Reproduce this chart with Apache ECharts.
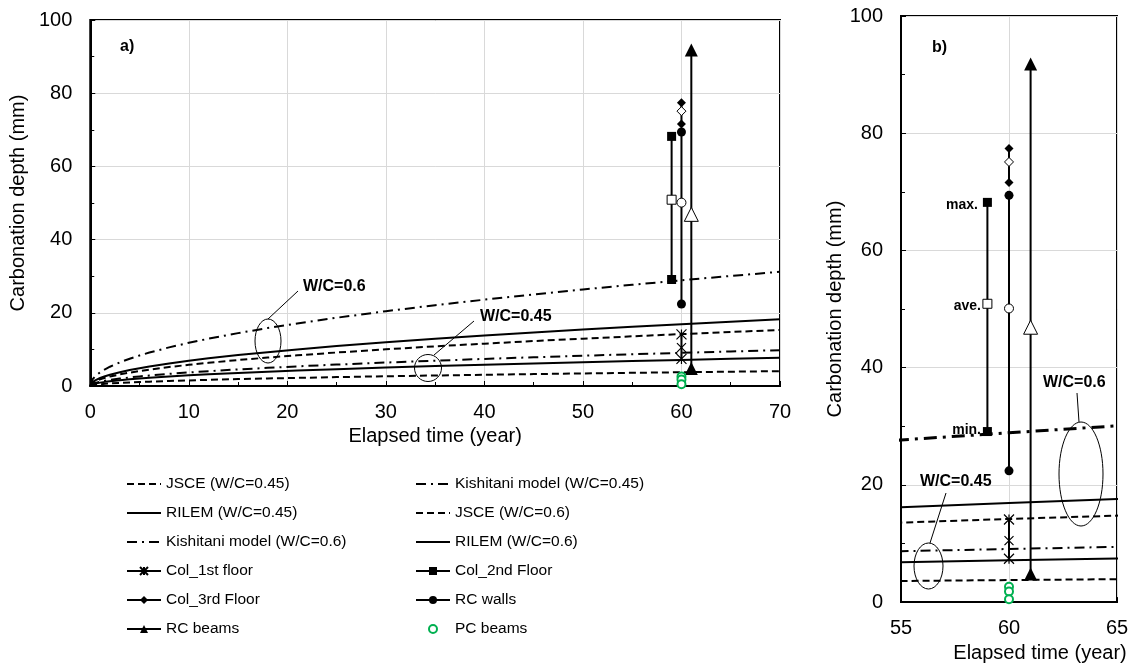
<!DOCTYPE html>
<html>
<head>
<meta charset="utf-8">
<script src="https://cdn.jsdelivr.net/npm/echarts@6/dist/echarts.min.js"></script>
<style>
html,body{margin:0;padding:0;background:#fff;}
#chart{width:1132px;height:668px;}
</style>
</head>
<body>
<div id="chart"></div>
<script>
// ---- data ----
const years    = [0, 0.25, 0.5, 1, 1.5, 2, 3, 4, 5, 6, 8, 10, 12, 15, 18, 21, 25, 30, 35, 40, 45, 50, 55, 60, 65, 70];
const jsce045  = [0, 0.24, 0.34, 0.49, 0.59, 0.69, 0.84, 0.97, 1.08, 1.19, 1.37, 1.53, 1.68, 1.88, 2.06, 2.22, 2.43, 2.66, 2.87, 3.07, 3.25, 3.43, 3.60, 3.76, 3.91, 4.06];
const rilem045 = [0, 0.46, 0.65, 0.92, 1.13, 1.30, 1.59, 1.84, 2.06, 2.25, 2.60, 2.91, 3.19, 3.56, 3.90, 4.22, 4.60, 5.04, 5.44, 5.82, 6.17, 6.51, 6.82, 7.13, 7.42, 7.70];
const kish045  = [0, 0.59, 0.83, 1.17, 1.43, 1.65, 2.03, 2.34, 2.62, 2.87, 3.31, 3.70, 4.05, 4.53, 4.96, 5.36, 5.85, 6.41, 6.92, 7.40, 7.85, 8.27, 8.68, 9.06, 9.43, 9.79];
const jsce06   = [0, 0.92, 1.29, 1.83, 2.24, 2.59, 3.17, 3.66, 4.09, 4.48, 5.18, 5.79, 6.34, 7.09, 7.76, 8.39, 9.15, 10.02, 10.83, 11.57, 12.28, 12.94, 13.57, 14.18, 14.75, 15.31];
const rilem06  = [0, 1.09, 1.54, 2.18, 2.67, 3.08, 3.78, 4.36, 4.87, 5.34, 6.17, 6.89, 7.55, 8.44, 9.25, 9.99, 10.90, 11.94, 12.90, 13.79, 14.62, 15.41, 16.17, 16.89, 17.58, 18.24];
const kish06   = [0, 1.87, 2.64, 3.73, 4.57, 5.27, 6.46, 7.46, 8.34, 9.14, 10.55, 11.80, 12.92, 14.45, 15.83, 17.09, 18.65, 20.43, 22.07, 23.59, 25.02, 26.37, 27.66, 28.89, 30.07, 31.21];

// measured depths: [max, ave, min]
const col1Year = 60, col1 = [14.1, 10.5, 7.4];
const col2Year = 59, col2 = [68.2, 50.9, 29.1];
const col3Year = 60, col3 = [77.4, 75.1, 71.6];
const wallsYear = 60, walls = [69.4, 50.1, 22.4];
const beamsYear = 61, beams = [91.8, 46.9, 4.8];
const pcYear = 60, pcBeams = [2.6, 1.8, 0.5];

const xTicksA = [0, 70, 10];
const xTicksB = [55, 65, 5];
const yTicks = [0, 100, 20];

const names = {
  jsce045: 'JSCE (W/C=0.45)', rilem045: 'RILEM (W/C=0.45)', kish045: 'Kishitani model (W/C=0.45)',
  jsce06: 'JSCE (W/C=0.6)', rilem06: 'RILEM (W/C=0.6)', kish06: 'Kishitani model (W/C=0.6)',
  col1: 'Col_1st floor', col2: 'Col_2nd Floor', col3: 'Col_3rd Floor',
  walls: 'RC walls', beams: 'RC beams', pc: 'PC beams'
};

// ---- styles ----
const FONT = '"Liberation Sans", Arial, sans-serif';
const DASH = [7, 4];
const DASHDOT = [10, 5, 2, 5];
const DASHDOT_B = [13, 6, 3, 6];
const ASTER = 'path://M0,0L10,10M10,0L0,10M5,0L5,10';
const XMARK = 'path://M0,0L10,10M10,0L0,10';

function pairs(xs, ys) { return xs.map((x, i) => [x, ys[i]]); }

function modelSeries(name, ys, type, gi, width) {
  return {
    name: name, type: 'line', xAxisIndex: gi, yAxisIndex: gi,
    data: pairs(years, ys), symbol: 'none',
    lineStyle: { color: '#000', width: width || 2, type: type },
    itemStyle: { color: '#000' }, z: 2, silent: true
  };
}

function measSeries(name, year, vals, symbol, size, aveSymbol, aveSize, gi) {
  const open = { color: '#fff', borderColor: '#000', borderWidth: 1 };
  const isPath = s => s.indexOf('path://') === 0;
  const stroke = { color: '#000', borderColor: '#000', borderWidth: 1.2 };
  return {
    name: name, type: 'line', xAxisIndex: gi, yAxisIndex: gi,
    symbol: symbol, symbolSize: size, showSymbol: true,
    lineStyle: { color: '#000', width: 2 },
    itemStyle: isPath(symbol) ? stroke : { color: '#000' },
    data: [
      { value: [year, vals[0]] },
      { value: [year, vals[1]], symbol: aveSymbol, symbolSize: aveSize, itemStyle: isPath(aveSymbol) ? stroke : open },
      { value: [year, vals[2]] }
    ],
    z: 4, silent: true
  };
}

function pcSeries(gi) {
  return {
    name: names.pc, type: 'line', xAxisIndex: gi, yAxisIndex: gi,
    symbol: 'emptyCircle', symbolSize: 8, showSymbol: true,
    lineStyle: { width: 0, opacity: 0 },
    itemStyle: { color: '#00B050', borderColor: '#00B050', borderWidth: 1.2 },
    data: pairs(pcBeams.map(() => pcYear), pcBeams), z: 5, silent: true
  };
}

function buildSeries(gi) {
  return [
    modelSeries(names.jsce045, jsce045, DASH, gi),
    modelSeries(names.rilem045, rilem045, 'solid', gi),
    modelSeries(names.kish045, kish045, DASHDOT, gi),
    modelSeries(names.jsce06, jsce06, DASH, gi),
    modelSeries(names.rilem06, rilem06, 'solid', gi),
    modelSeries(names.kish06, kish06, gi === 1 ? DASHDOT_B : DASHDOT, gi, gi === 1 ? 3 : 2),
    measSeries(names.col1, col1Year, col1, ASTER, 10, XMARK, 9, gi),
    measSeries(names.col2, col2Year, col2, 'rect', 9, 'rect', 9, gi),
    measSeries(names.col3, col3Year, col3, 'diamond', 9, 'diamond', 9, gi),
    measSeries(names.walls, wallsYear, walls, 'circle', 9, 'circle', 9, gi),
    measSeries(names.beams, beamsYear, beams, 'triangle', 13, 'triangle', 14, gi),
    pcSeries(gi)
  ];
}

function xAxis(gi, t, minor, nameGap, namePad) {
  return {
    type: 'value', gridIndex: gi, min: t[0], max: t[1], interval: t[2],
    axisLine: { show: true, onZero: false, lineStyle: { color: '#000', width: 2 } },
    axisTick: { show: true, inside: true, length: 5, lineStyle: { color: '#000', width: 1 } },
    minorTick: { show: minor, splitNumber: 2, length: 4, lineStyle: { color: '#000', width: 1 } },
    splitLine: { show: true, lineStyle: { color: '#d9d9d9', width: 1 } },
    axisLabel: { fontSize: 20, color: '#000', margin: 16, fontFamily: FONT },
    name: 'Elapsed time (year)', nameLocation: 'middle', nameGap: nameGap,
    nameTextStyle: { fontSize: 20, color: '#000', fontFamily: FONT, padding: namePad }
  };
}

function yAxis(gi, nameGap) {
  return {
    type: 'value', gridIndex: gi, min: yTicks[0], max: yTicks[1], interval: yTicks[2],
    axisLine: { show: true, onZero: false, lineStyle: { color: '#000', width: 2 } },
    axisTick: { show: true, inside: true, length: 5, lineStyle: { color: '#000', width: 1 } },
    minorTick: { show: true, splitNumber: 2, length: 4, lineStyle: { color: '#000', width: 1 } },
    splitLine: { show: true, lineStyle: { color: '#d9d9d9', width: 1 } },
    axisLabel: { fontSize: 20, color: '#000', margin: 18, fontFamily: FONT },
    name: 'Carbonation depth (mm)', nameLocation: 'middle', nameGap: nameGap,
    nameTextStyle: { fontSize: 20, color: '#000', fontFamily: FONT }
  };
}

const legendText = { fontSize: 15.5, color: '#000', fontFamily: FONT };
const lineOnly = n => ({ name: n, itemStyle: { opacity: 0 } });
const legendBase = { orient: 'vertical', itemWidth: 34, itemHeight: 10, itemGap: 13, padding: 0,
  textStyle: legendText, selectedMode: false };

function txt(s, x, y, size, align) {
  return { type: 'text', silent: true, z: 10,
    style: { text: s, x: x, y: y, fill: '#000', font: 'bold ' + size + 'px ' + FONT,
      align: align || 'left', verticalAlign: 'middle' } };
}
function seg(x1, y1, x2, y2) {
  return { type: 'line', silent: true, z: 10, shape: { x1: x1, y1: y1, x2: x2, y2: y2 },
    style: { stroke: '#000', lineWidth: 1 } };
}
function ell(cx, cy, rx, ry) {
  return { type: 'ellipse', silent: true, z: 10, shape: { cx: cx, cy: cy, rx: rx, ry: ry },
    style: { fill: 'none', stroke: '#000', lineWidth: 1 } };
}

const option = {
  animation: false,
  backgroundColor: '#fff',
  textStyle: { fontFamily: FONT },
  grid: [
    { left: 89, top: 20, width: 691, height: 366, show: true, borderColor: '#000', borderWidth: 2, backgroundColor: 'transparent' },
    { left: 901, top: 16, width: 216, height: 588, show: true, borderColor: '#000', borderWidth: 2, backgroundColor: 'transparent' }
  ],
  xAxis: [ xAxis(0, xTicksA, true, 38, 0), xAxis(1, xTicksB, false, 39, [0, 0, 0, 62]) ],
  yAxis: [ yAxis(0, 57), yAxis(1, 56) ],
  legend: [
    Object.assign({}, legendBase, { left: 126, top: 476,
      data: [lineOnly(names.jsce045), lineOnly(names.rilem045), lineOnly(names.kish06), names.col1, names.col3, names.beams] }),
    Object.assign({}, legendBase, { left: 415, top: 476,
      data: [lineOnly(names.kish045), lineOnly(names.jsce06), lineOnly(names.rilem06), names.col2, names.walls, names.pc] })
  ],
  series: buildSeries(0).concat(buildSeries(1)),
  graphic: [
    txt('a)', 120, 47, 16), txt('b)', 932, 48, 16),
    txt('W/C=0.6', 303, 287, 16), seg(298, 291, 268, 319), ell(268, 341, 13, 22),
    txt('W/C=0.45', 480, 317, 16), seg(474, 321, 434, 355), ell(428, 368, 13.5, 13.5),
    txt('W/C=0.6', 1043, 383, 16), seg(1077, 393, 1079, 422), ell(1081, 474, 22, 52),
    txt('W/C=0.45', 920, 482, 16), seg(946, 493, 930, 543), ell(928.5, 566, 14.5, 23),
    txt('max.', 978, 205, 14, 'right'), txt('ave.', 981, 306, 14, 'right'), txt('min.', 981, 430, 14, 'right')
  ]
};

const chart = echarts.init(document.getElementById('chart'), null, { renderer: 'canvas' });
chart.setOption(option);
</script>
</body>
</html>
